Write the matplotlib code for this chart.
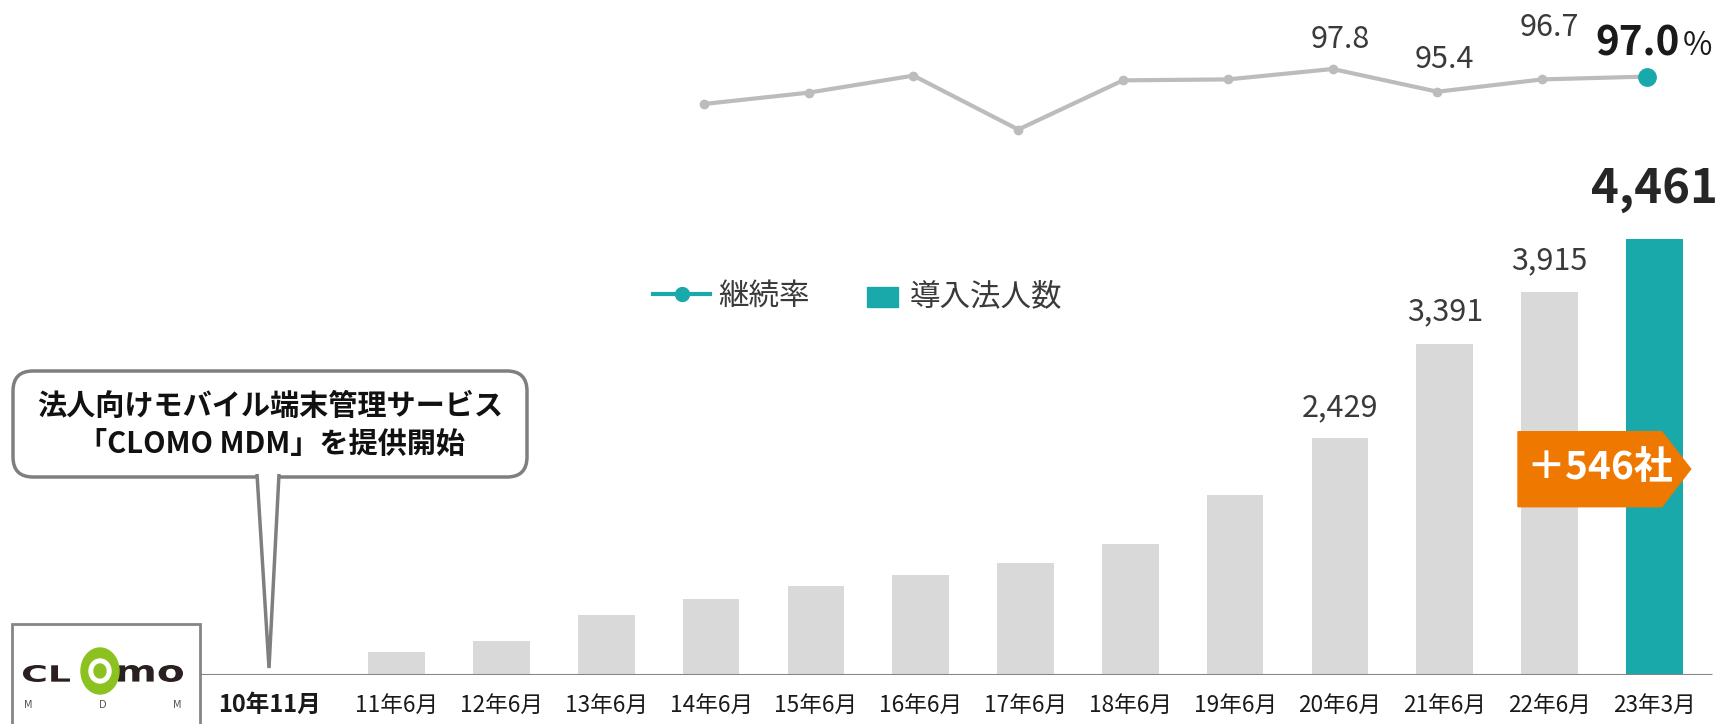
import matplotlib
matplotlib.use("Agg")
import matplotlib.pyplot as plt
from matplotlib.patches import Rectangle, FancyBboxPatch, Polygon, Ellipse, PathPatch
from matplotlib.lines import Line2D
from matplotlib.textpath import TextPath
from matplotlib.font_manager import FontProperties
from matplotlib.transforms import IdentityTransform, Affine2D

plt.rcParams['font.family'] = ['Noto Sans CJK JP', 'DejaVu Sans']

# data
periods = ["10年11月", "11年6月", "12年6月", "13年6月", "14年6月", "15年6月", "16年6月",
           "17年6月", "18年6月", "19年6月", "20年6月", "21年6月", "22年6月", "23年3月"]
companies = [0, 235, 344, 619, 782, 915, 1020, 1150, 1336, 1842, 2429, 3391, 3915, 4461]
rate_periods = periods[4:]
retention = [94.1, 95.3, 97.1, 91.4, 96.6, 96.7, 97.8, 95.4, 96.7, 97.0]
labelled_bars = ["20年6月", "21年6月", "22年6月", "23年3月"]
labelled_rates = ["20年6月", "21年6月", "22年6月"]
increase = companies[-1] - companies[-2]

TEAL = "#1aa9aa"
BAR_GRAY = "#d9d9d9"
LINE_GRAY = "#bcbcbc"
EDGE_GRAY = "#858585"
TXT = "#3a3a3a"

W, H = 1721, 724
fig = plt.figure(figsize=(W / 100, H / 100), dpi=100)
PX = IdentityTransform()


def py(y):
    # image rows (top = 0) -> display pixels
    return H - y


def fitted_text(s, x0, x1, y0, y1, color, zorder=7):
    # text outline stretched into a pixel box (for the logo lettering)
    tp = TextPath((0, 0), s, size=20, prop=FontProperties(family="DejaVu Sans", weight="bold"))
    b = tp.get_extents()
    tr = (Affine2D().translate(-b.x0, -b.y0)
          .scale((x1 - x0) / b.width, (y1 - y0) / b.height)
          .translate(x0, py(y1)))
    fig.add_artist(PathPatch(tr.transform_path(tp), color=color, lw=0, transform=PX, zorder=zorder))


ax = fig.add_axes([0, 49 / H, 1, 675 / H])
ax.set_xlim(-2.786, 13.636)
ax.set_ylim(0, 675 * 4461 / 436)
ax.axis("off")

pos = [-0.21] + list(range(1, len(periods)))
xpos = dict(zip(periods, pos))
colors = [BAR_GRAY] * (len(periods) - 1) + [TEAL]
ax.bar(pos, companies, width=0.54, color=colors, zorder=2)
ax.plot([-1.865, 13.55], [0, 0], color=EDGE_GRAY, lw=2.2, zorder=3, solid_capstyle="butt")

for p, lab in zip(pos, periods):
    first = lab == periods[0]
    ax.annotate(lab, (p, 0), xytext=(0, -30 * 0.72), textcoords="offset points",
                ha="center", va="center", fontsize=17 if first else 16.3,
                fontweight="bold" if first else "normal", color="#1a1a1a")

bar_off = {"20年6月": 30, "21年6月": 31.5, "22年6月": 32, "23年3月": 50}
for lab in labelled_bars:
    v = companies[periods.index(lab)]
    last = lab == periods[-1]
    ax.annotate(f"{v:,}", (xpos[lab], v), xytext=(0, bar_off[lab] * 0.72),
                textcoords="offset points", ha="center", va="center",
                fontsize=34 if last else 22, fontweight="bold" if last else "normal",
                color="#262626" if last else TXT)

# retention rate line on its own scale
ax2 = ax.twinx()
ax2.set_position(ax.get_position())
ax2.set_ylim(97.8 - (675 - 69) / 9.46, 97.8 + 69 / 9.46)
ax2.axis("off")
lpos = [xpos[p] - 0.07 for p in rate_periods]
ax2.plot(lpos, retention, color=LINE_GRAY, lw=3, marker="o", ms=6, zorder=4)
ax2.plot(lpos[-1:], retention[-1:], ls="none", marker="o", ms=12.5, color=TEAL, zorder=5)

rate_off = {"20年6月": 29, "21年6月": 32, "22年6月": 52}
for lab in labelled_rates:
    v = retention[rate_periods.index(lab)]
    ax2.annotate(f"{v:.1f}", (xpos[lab], v), xytext=(0, rate_off[lab] * 0.72),
                 textcoords="offset points", ha="center", va="center", fontsize=22, color=TXT)
ax2.annotate(f"{retention[-1]:.1f}", (xpos[periods[-1]], retention[-1]), xytext=(25.5 * 0.72, 21 * 0.72),
             textcoords="offset points", ha="right", va="baseline", fontsize=29,
             fontweight="bold", color="#1a1a1a")
ax2.annotate("%", (xpos[periods[-1]], retention[-1]), xytext=(28 * 0.72, 22 * 0.72),
             textcoords="offset points", ha="left", va="baseline", fontsize=23, color="#1a1a1a")

# legend
fig.add_artist(Line2D([653, 710], [py(294), py(294)], color=TEAL, lw=3, transform=PX))
fig.add_artist(Line2D([681.7], [py(294)], marker="o", ms=10, color=TEAL, transform=PX))
fig.text(718, py(296), "継続率", transform=PX, fontsize=22, color=TXT, va="center", ha="left")
fig.add_artist(Rectangle((866.7, py(307)), 31, 20, color=TEAL, transform=PX))
fig.text(910, py(297), "導入法人数", transform=PX, fontsize=22, color=TXT, va="center", ha="left")

# orange tag
tag = [(1518, 431.7), (1661.7, 431.7), (1690.7, 469), (1661.7, 506.7), (1518, 506.7)]
fig.add_artist(Polygon([(x, py(y)) for x, y in tag], closed=True, color="#ef7800",
                       transform=PX, zorder=6))
fig.text(1600, py(467), f"＋{increase}社", transform=PX, fontsize=28, fontweight="bold",
         color="white", ha="center", va="center", zorder=7)

# callout
box = FancyBboxPatch((13, py(477)), 514, 106, boxstyle="round,pad=0,rounding_size=20",
                     facecolor="white", edgecolor="#7f7f7f", lw=2.5, transform=PX, zorder=6)
fig.add_artist(box)
fig.add_artist(Polygon([(257, py(474)), (269, py(668)), (279, py(474))], closed=False,
                       facecolor="white", edgecolor="#7f7f7f", lw=2.5, transform=PX, zorder=7))
fig.text(270, py(406), "法人向けモバイル端末管理サービス", transform=PX, fontsize=21,
         fontweight="bold", color="#111111", ha="center", va="center", zorder=8)
fig.text(271, py(444), "「CLOMO MDM」を提供開始", transform=PX, fontsize=21,
         fontweight="bold", color="#111111", ha="center", va="center", zorder=8)

# logo box
fig.add_artist(Rectangle((12, py(730)), 188, 106, facecolor="white", edgecolor=EDGE_GRAY,
                         lw=2, transform=PX, zorder=6))
DARK = "#2b2020"
GREEN = "#8cc21f"
fitted_text("CL", 23, 70, 665, 682, DARK)
fitted_text("mo", 118, 183, 665, 682, DARK)
fig.add_artist(Ellipse((100, py(671)), 38, 46, color=GREEN, transform=PX, zorder=8))
fig.add_artist(Ellipse((100, py(671)), 22, 24, color="white", transform=PX, zorder=9))
fig.add_artist(Ellipse((100, py(671)), 12, 14, color=GREEN, transform=PX, zorder=10))
for x, ch in [(28, "M"), (103, "D"), (177, "M")]:
    fig.text(x, py(705), ch, transform=PX, fontsize=7, color="#555555", family="DejaVu Sans",
             ha="center", va="center", zorder=7)

fig.savefig("out.png", dpi=100)
